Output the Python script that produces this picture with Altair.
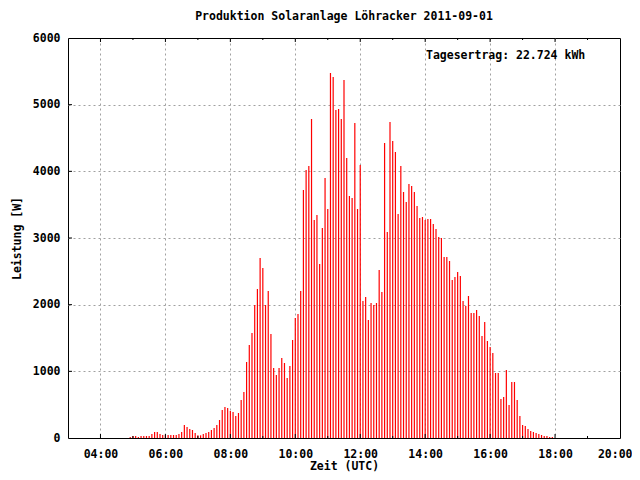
import altair as alt
import pandas as pd

FONT = "DejaVu Sans Mono"
FS = 11.5

title_text = "Produktion Solaranlage Löhracker 2011-09-01"
yield_text = "Tagesertrag: 22.724 kWh"
x_title = "Zeit (UTC)"
y_title = "Leistung [W]"

# sampling: one value every 5 minutes starting 04:55 UTC
start_time = "2011-09-01 04:55"
step = "5min"

power_w = [
    15, 30, 30, 15, 30, 30, 30, 30, 60, 90,
    90, 60, 45, 45, 45, 45, 45, 45, 60, 90,
    195, 165, 135, 120, 75, 40, 40, 60, 75, 90,
    120, 150, 195, 270, 420, 465, 450, 405, 390, 330,
    375, 570, 690, 1140, 1395, 1575, 1995, 2235, 2700, 2550,
    1995, 2205, 1560, 1050, 945, 1050, 1200, 1125, 900, 1080,
    1470, 1800, 1860, 2205, 3720, 4020, 4080, 4785, 3270, 3345,
    2610, 3150, 3900, 3435, 5475, 5415, 4920, 4935, 4785, 5370,
    4200, 3630, 3600, 4725, 3435, 4095, 2055, 2115, 1770, 2025,
    1995, 2025, 2520, 2190, 4425, 3090, 4740, 4455, 4290, 3360,
    4080, 3690, 3540, 3810, 3780, 3690, 3480, 3300, 3315, 3270,
    3285, 3285, 3210, 3135, 3015, 3000, 2715, 2715, 2655, 2370,
    2415, 2490, 2430, 2055, 1980, 2130, 1875, 1875, 1920, 1830,
    1530, 1740, 1455, 1365, 1275, 975, 975, 585, 615, 1020,
    495, 840, 840, 570, 330, 195, 180, 135, 105, 90,
    75, 60, 45, 30, 30, 15, 15,
]

x_domain = [3, 20]
x_label_hours = [4, 6, 8, 10, 12, 14, 16, 18, 20]
x_major_tick_hours = [4, 6, 8, 10, 12, 14, 16, 18]
x_minor_tick_hours = [5, 7, 9, 11, 13, 15, 17, 19]
y_domain = [0, 6000]
y_tick_values = [0, 1000, 2000, 3000, 4000, 5000, 6000]
y_inner_ticks = [1000, 2000, 3000, 4000, 5000]

times = pd.date_range(start_time, periods=len(power_w), freq=step)
df = pd.DataFrame({"hour": times.hour + times.minute / 60.0, "power": power_w})

x_scale = alt.Scale(domain=x_domain, nice=False, zero=False)
y_scale = alt.Scale(domain=y_domain, nice=False)

x_axis = alt.Axis(
    values=x_label_hours,
    labelExpr="(datum.value < 10 ? '0' : '') + datum.value + ':00'",
    title=x_title,
    grid=True,
    gridOpacity={"condition": {"test": "datum.value >= 20", "value": 0}, "value": 1},
    labelAlign={"condition": {"test": "datum.value >= 20", "value": "right"}, "value": "center"},
    labelOffset={"condition": {"test": "datum.value >= 20", "value": 12}, "value": 0},
    labelPadding=10,
    titlePadding=1,
)
y_axis = alt.Axis(
    values=y_tick_values,
    format="d",
    title=y_title,
    grid=True,
    gridOpacity={
        "condition": {"test": "datum.value <= 0 || datum.value >= 6000", "value": 0},
        "value": 1,
    },
    labelPadding=8,
    titlePadding=10,
)

bars = alt.Chart(df).mark_rule(color="#ff0000", strokeWidth=1.2).encode(
    x=alt.X("hour:Q", scale=x_scale, axis=x_axis, title=x_title),
    y=alt.Y("power:Q", scale=y_scale, axis=y_axis, title=y_title),
    y2=alt.datum(0),
)

tick_color = "black"
major_df = pd.DataFrame({"hour": x_major_tick_hours})
minor_df = pd.DataFrame({"hour": x_minor_tick_hours})
ytick_df = pd.DataFrame({"power": y_inner_ticks})

bottom_major = alt.Chart(major_df).mark_rule(color=tick_color, strokeWidth=1).encode(
    x=alt.X("hour:Q", scale=x_scale, title=x_title), y=alt.value(400), y2=alt.value(396)
)
top_major = alt.Chart(major_df).mark_rule(color=tick_color, strokeWidth=1).encode(
    x=alt.X("hour:Q", scale=x_scale, title=x_title), y=alt.value(0), y2=alt.value(4)
)
bottom_minor = alt.Chart(minor_df).mark_rule(color=tick_color, strokeWidth=1).encode(
    x=alt.X("hour:Q", scale=x_scale, title=x_title), y=alt.value(400), y2=alt.value(398)
)
top_minor = alt.Chart(minor_df).mark_rule(color=tick_color, strokeWidth=1).encode(
    x=alt.X("hour:Q", scale=x_scale, title=x_title), y=alt.value(0), y2=alt.value(2)
)
left_ticks = alt.Chart(ytick_df).mark_rule(color=tick_color, strokeWidth=1).encode(
    y=alt.Y("power:Q", scale=y_scale, title=y_title), x=alt.value(0), x2=alt.value(4)
)

label = alt.Chart(pd.DataFrame({"t": [yield_text]})).mark_text(
    align="left", baseline="middle", font=FONT, fontSize=FS, fontWeight="bold", color="black"
).encode(text="t:N", x=alt.value(358), y=alt.value(18))

chart = (
    alt.layer(bars, bottom_major, top_major, bottom_minor, top_minor, left_ticks, label)
    .properties(
        width=552,
        height=400,
        title=alt.TitleParams(
            title_text, font=FONT, fontSize=FS, fontWeight="bold", anchor="middle",
            offset=10, color="black",
        ),
        padding={"left": 60, "top": 30, "right": 12, "bottom": 34},
        autosize=alt.AutoSizeParams(type="none"),
        background="white",
    )
    .configure_view(stroke="black", strokeWidth=1)
    .configure_axis(
        domain=False,
        ticks=False,
        tickSize=0,
        labelFont=FONT,
        labelFontSize=FS,
        labelFontWeight="bold",
        labelColor="black",
        labelFlush=False,
        labelOverlap=False,
        titleFont=FONT,
        titleFontSize=FS,
        titleFontWeight="bold",
        titleColor="black",
        gridColor="#a0a0a0",
        gridDash=[2, 3],
        gridWidth=1,
    )
)

chart.save("out.html", embed_options={"renderer": "svg", "actions": False})
